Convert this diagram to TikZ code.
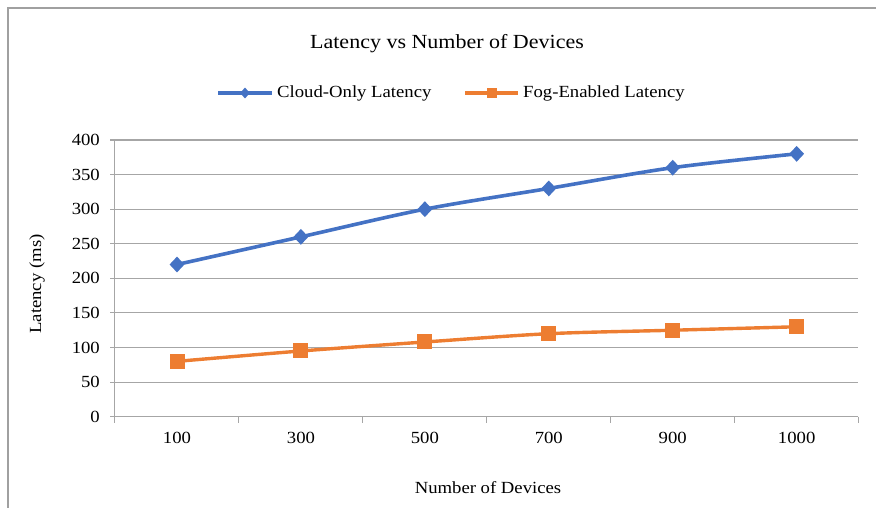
\documentclass[tikz,border=0pt]{standalone}
\usepackage{fontspec}
\setmainfont[FakeStretch=1.1]{Liberation Serif}
\usetikzlibrary{shapes.geometric}
\definecolor{cloudblue}{HTML}{4472C4}
\definecolor{fogorange}{HTML}{ED7D31}
\definecolor{gridgray}{HTML}{A6A6A6}
\definecolor{framegray}{HTML}{A0A0A0}
% plot area: x-axis from 115 to 858, y-axis from 416.7 (0) to 140 (400)
\newcommand{\cx}[1]{\fpeval{177+123.93*(#1)}}
\newcommand{\vy}[1]{\fpeval{416.7-0.69175*(#1)}}
\tikzset{
  gridline/.style={gridgray, line width=1.1pt},
  axisline/.style={gridgray, line width=1.1pt},
  ticklabel/.style={font=\fontsize{17}{17}\selectfont, inner sep=0pt},
  cloudline/.style={cloudblue, line width=3.6pt, line join=round},
  fogline/.style={fogorange, line width=3.4pt, line join=round},
  cloudmark/.style={diamond, fill=cloudblue, inner sep=0pt, minimum width=15pt, minimum height=16pt},
  fogmark/.style={rectangle, fill=fogorange, inner sep=0pt, minimum size=15pt},
}
\begin{document}
\begin{tikzpicture}[x=1pt, y=-1pt]
\useasboundingbox (0,0) rectangle (876,508);
% chart frame (only top and left edges fall inside the picture)
\draw[framegray, line width=2pt] (8,520) -- (8,8.5) -- (890,8.5);
% title
\node[font=\fontsize{20}{20}\selectfont] (title) at (447,44) {Latency vs Number of Devices};
% legend
\draw[cloudline] (218,93) -- (272,93);
\node[diamond, fill=cloudblue, inner sep=0pt, minimum width=10pt, minimum height=11pt] (legcloud) at (245,93) {};
\node[font=\fontsize{17}{17}\selectfont, anchor=west, inner sep=0pt] (legcloudtxt) at (277,93) {Cloud-Only Latency};
\draw[fogline] (465,93) -- (518,93);
\node[rectangle, fill=fogorange, inner sep=0pt, minimum size=10pt] (legfog) at (491.5,93) {};
\node[font=\fontsize{17}{17}\selectfont, anchor=west, inner sep=0pt] (legfogtxt) at (523,93) {Fog-Enabled Latency};
% horizontal gridlines with ticks and labels
\foreach \v in {50,100,...,400}{
  \draw[gridline] (110,{\vy{\v}}) -- (858.3,{\vy{\v}});
}
\foreach \v in {0,50,...,400}{
  \node[ticklabel, anchor=east] (ylab\v) at (100,{\vy{\v}}) {\v};
}
% axes
\draw[axisline] (110,416.7) -- (858.3,416.7);
\draw[axisline] (114.7,140) -- (114.7,416.7);
\foreach \i in {0,...,6}{
  \draw[axisline] ({114.7+123.93*\i},416.7) -- ({114.7+123.93*\i},422.5);
}
% category labels
\foreach \c [count=\i from 0] in {100,300,500,700,900,1000}{
  \node[ticklabel] (xlab\i) at ({\cx{\i}},438) {\c};
}
% axis titles
\node[font=\fontsize{17}{17}\selectfont, rotate=90] (ytitle) at (37,284) {Latency (ms)};
\node[font=\fontsize{17}{17}\selectfont] (xtitle) at (488,488) {Number of Devices};
% cloud-only series
\draw[cloudline] plot[smooth, tension=0.5] coordinates {
  ({\cx{0}},{\vy{220}}) ({\cx{1}},{\vy{260}}) ({\cx{2}},{\vy{300}})
  ({\cx{3}},{\vy{330}}) ({\cx{4}},{\vy{360}}) ({\cx{5}},{\vy{380}})};
\foreach \v [count=\i from 0] in {220,260,300,330,360,380}{
  \node[cloudmark] (cloud\i) at ({\cx{\i}},{\vy{\v}}) {};
}
% fog-enabled series
\draw[fogline] plot[smooth, tension=0.5] coordinates {
  ({\cx{0}},{\vy{80}}) ({\cx{1}},{\vy{95}}) ({\cx{2}},{\vy{108}})
  ({\cx{3}},{\vy{120}}) ({\cx{4}},{\vy{125}}) ({\cx{5}},{\vy{130}})};
\foreach \v [count=\i from 0] in {80,95,108,120,125,130}{
  \node[fogmark] (fog\i) at ({\cx{\i}},{\vy{\v}}) {};
}
\end{tikzpicture}
\end{document}
